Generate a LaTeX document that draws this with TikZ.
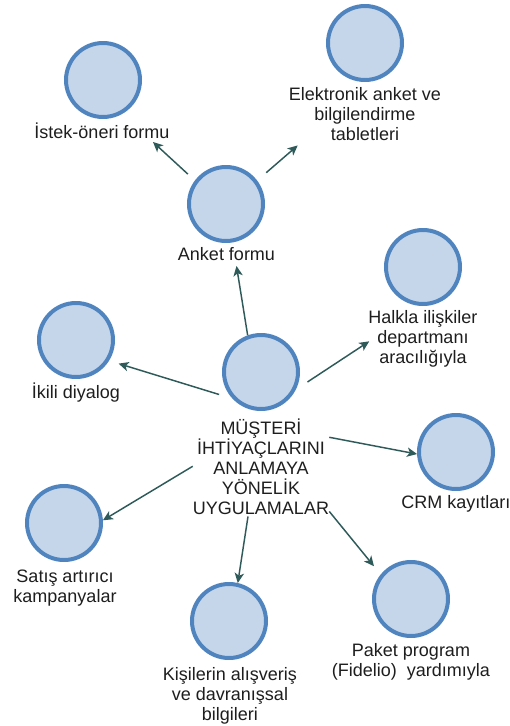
\documentclass[tikz,border=0pt]{standalone}
\usepackage{fontspec}
\setmainfont{Liberation Sans}
\usetikzlibrary{arrows.meta}
\definecolor{discfill}{HTML}{C5D6EA}
\definecolor{discline}{HTML}{5084BF}
\definecolor{arrowcol}{HTML}{2F5A5A}
\definecolor{textcol}{HTML}{1E1E1E}

\begin{document}
\begin{tikzpicture}[x=0.75pt,y=-0.75pt,
  disc/.style={circle, draw=discline, fill=discfill, line width=3pt,
               minimum size=55.5pt, inner sep=0pt},
  lbl/.style={anchor=base, align=center, inner sep=0pt, text=textcol,
              font=\fontsize{13.5pt}{15pt}\selectfont},
  link/.style={draw=arrowcol, line width=1.1pt,
               -{Stealth[length=7.5pt,width=7pt,inset=2pt]}}
]
\fill[white] (0,0) rectangle (510,726);
\useasboundingbox (0,0) rectangle (510,726);

% discs
\node[disc] (c-istek)  at (103,80)  {};
\node[disc] (c-elek)   at (365,43)  {};
\node[disc] (c-anket)  at (226,204) {};
\node[disc] (c-halkla) at (423,267) {};
\node[disc] (c-ikili)  at (76,340)  {};
\node[disc] (c-center) at (261,372) {};
\node[disc] (c-crm)    at (456,452) {};
\node[disc] (c-satis)  at (64,523)  {};
\node[disc] (c-kisi)   at (229,621) {};
\node[disc] (c-paket)  at (411,599) {};

% captions (base anchor = baseline of the last line)
\node[lbl] (l-istek)  at (102,138)   {İstek-öneri formu};
\node[lbl] (l-elek)   at (365,140)   {Elektronik anket ve\\bilgilendirme\\tabletleri};
\node[lbl] (l-anket)  at (226.5,260) {Anket formu};
\node[lbl] (l-halkla) at (423,363)   {Halkla ilişkiler\\departmanı\\aracılığıyla};
\node[lbl] (l-ikili)  at (76,398)    {İkili diyalog};
\node[lbl] (l-center) at (261,514)   {MÜŞTERİ\\İHTİYAÇLARINI\\ANLAMAYA\\YÖNELİK\\UYGULAMALAR};
\node[lbl] (l-crm)    at (456,508)   {CRM kayıtları};
\node[lbl] (l-satis)  at (65,602)    {Satış artırıcı\\kampanyalar};
\node[lbl] (l-kisi)   at (230,720)   {Kişilerin alışveriş\\ve davranışsal\\bilgileri};
\node[lbl] (l-paket)  at (411,676)   {Paket program\\(Fidelio)~~yardımıyla};

% connectors
\draw[link] (c-center.110) -- ([shift={(10,6)}]l-anket.base);
\draw[link, shorten <=7.2pt] (c-anket.143) -- ([shift={(51,4)}]l-istek.base);
\draw[link, shorten <=9pt] (c-anket.37) -- ([shift={(9,5)}]l-elek.south west);
\draw[link, shorten <=10.5pt] (c-center.-27) -- ([shift={(1,3)}]l-halkla.west);
\draw[link, shorten <=10.5pt, shorten >=7.5pt] (c-center.223) -- (c-ikili.-32);
\draw[link] ([shift={(0,-29)}]l-center.east) -- (c-crm.183);
\draw[link] (l-center.west) -- (c-satis.4);
\draw[link] ([shift={(-13,2)}]l-center.south) -- (c-kisi.77);
\draw[link, shorten >=8pt] ([shift={(0,-3)}]l-center.south east) -- (c-paket.141);
\end{tikzpicture}
\end{document}
